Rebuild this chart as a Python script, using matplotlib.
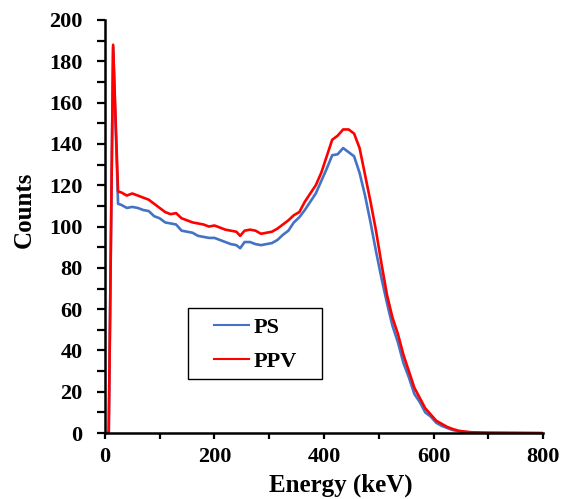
import matplotlib
matplotlib.use('Agg')
import matplotlib.pyplot as plt
from matplotlib.ticker import MultipleLocator
from matplotlib.patches import Rectangle

# ==========================================
# Data
# ==========================================
energy = [0, 5, 7, 15, 24, 30, 40, 50, 60, 70, 80, 90, 100, 110, 120, 130, 140,
          150, 160, 170, 180, 190, 200, 210, 220, 230, 240, 247, 255, 265, 275,
          285, 295, 305, 315, 325, 335, 345, 355, 365, 375, 385, 395, 405, 415,
          425, 435, 445, 455, 465, 475, 485, 495, 505, 515, 525, 535, 545, 555,
          565, 575, 585, 595, 605, 615, 625, 635, 645, 655, 670, 700, 750, 800]

counts_ppv = [0, 0, 0, 188, 117, 116.5, 115, 116, 115, 114, 113, 111, 109, 107,
              106, 106.5, 104, 103, 102, 101.5, 101, 100, 100.5, 99.5, 98.5, 98,
              97.5, 95.5, 98, 98.5, 98, 96.5, 97, 97.5, 99, 101, 103, 105.5, 107,
              112, 116, 120, 126, 134, 142, 144, 147, 147, 145, 138, 125, 112, 98,
              82, 67, 56, 48, 38, 30, 22, 17, 12, 9, 6, 4.5, 3, 2, 1.2, 0.8, 0.4,
              0.2, 0.1, 0]

counts_ps = [0, 0, 0, 187, 111, 110.5, 109, 109.5, 109, 108, 107.5, 105, 104, 102,
             101.5, 101, 98, 97.5, 97, 95.5, 95, 94.5, 94.5, 93.5, 92.5, 91.5, 91,
             89.5, 92.5, 92.5, 91.5, 91, 91.5, 92, 93.5, 96, 98, 102, 104.5, 108,
             112, 116, 122, 128, 134.5, 135, 138, 136, 134, 126, 115, 102, 88, 75,
             63, 52, 44, 34, 27, 19, 15, 10, 8, 5, 3.5, 2.5, 1.5, 1, 0.6, 0.3, 0.1,
             0.05, 0]

plt.rcParams['font.family'] = ['Liberation Serif', 'DejaVu Serif']
plt.rcParams['font.weight'] = 'bold'

fig = plt.figure(figsize=(5.61, 4.99), dpi=100)
ax = fig.add_axes([0.187, 0.132, 0.781, 0.828])

ax.plot(energy, counts_ps, color='#4472C4', linewidth=1.9, label='PS')
ax.plot(energy, counts_ppv, color='#FF0000', linewidth=1.9, label='PPV')

ax.set_xlim(0, 800)
ax.set_ylim(0, 200)
ax.xaxis.set_major_locator(MultipleLocator(200))
ax.xaxis.set_minor_locator(MultipleLocator(100))
ax.yaxis.set_major_locator(MultipleLocator(20))
ax.yaxis.set_minor_locator(MultipleLocator(10))

for side in ['top', 'right']:
    ax.spines[side].set_visible(False)
for side in ['left', 'bottom']:
    ax.spines[side].set_linewidth(1.8)

ax.tick_params(axis='y', which='both', direction='out', length=6, width=1.6,
               labelsize=16, pad=10)
ax.tick_params(axis='x', which='both', direction='out', length=4, width=1.6,
               labelsize=16, pad=6)
for lab in ax.get_xticklabels() + ax.get_yticklabels():
    lab.set_fontweight('bold')

ax.set_xlabel('Energy (keV)', fontsize=18, fontweight='bold')
ax.set_ylabel('Counts', fontsize=18, fontweight='bold')
ax.xaxis.set_label_coords(0.539, -0.097)
ax.yaxis.set_label_coords(-0.157, 0.54)

# legend: frame drawn separately so the entries can sit centred in the box
ax.add_patch(Rectangle((0.19, 0.131), 0.306, 0.172, transform=ax.transAxes,
                       facecolor='white', edgecolor='black', linewidth=1.0,
                       zorder=5))
leg = ax.legend(loc='center', bbox_to_anchor=(0.343, 0.215), fontsize=16,
                frameon=False, handlelength=1.6, handletextpad=0.2,
                borderpad=0.0, labelspacing=0.6)
leg.set_zorder(6)
for txt in leg.get_texts():
    txt.set_fontweight('bold')
for line in leg.get_lines():
    line.set_linewidth(1.5)

fig.savefig('out.png', dpi=100)
